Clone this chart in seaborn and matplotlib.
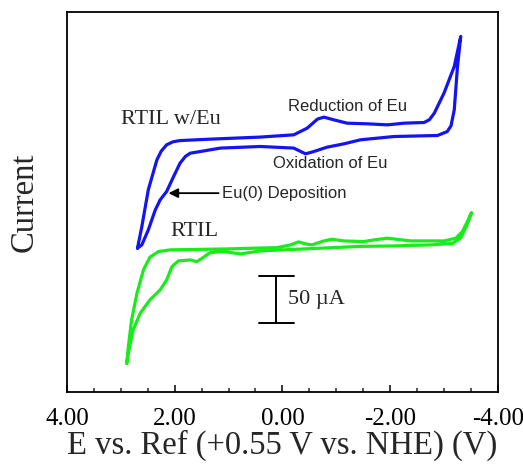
import numpy as np
import pandas as pd
import seaborn as sns
import matplotlib.pyplot as plt
from matplotlib.ticker import MultipleLocator, FormatStrFormatter

# RTIL w/Eu cyclic voltammogram (potential V, current uA)
eu_v = [2.69, 2.61, 2.49, 2.33, 2.25, 2.15, 2.03, 1.90, 1.34, 0.41, -0.21, -0.46, -0.65, -0.77,
        -0.95, -1.20, -1.58, -1.95, -2.26, -2.63, -2.73, -2.82, -3.00, -3.19, -3.31,
        -3.25, -3.19, -3.13, -3.06, -2.88, -2.07, -1.45, -1.14, -0.83, -0.58, -0.43,
        -0.21, 0.41, 1.15, 1.53, 1.71, 1.80, 1.90, 2.02, 2.15, 2.27, 2.36, 2.49, 2.61, 2.69]
eu_i = [152.9, 175.8, 214.9, 246.8, 256.0, 262.8, 266.0, 267.3, 268.8, 271.0, 273.4, 280.5, 290.1, 292.2,
        289.4, 285.8, 285.1, 284.0, 285.8, 286.5, 289.5, 296.5, 317.8, 346.1, 378.0,
        346.1, 300.0, 283.0, 276.9, 272.7, 271.6, 268.1, 263.8, 260.3, 255.6, 253.2,
        259.3, 261.0, 259.3, 255.6, 253.9, 250.5, 243.3, 229.1, 213.1, 204.2, 193.6, 172.3, 156.4, 152.9]

# neat RTIL cyclic voltammogram
rtil_v = [2.89, 2.86, 2.80, 2.70, 2.58, 2.46, 2.30, 2.08, 1.03, 0.10, -0.15, -0.30,
          -0.43, -0.55, -0.77, -0.92, -1.14, -1.51, -1.70, -1.95, -2.38, -3.00,
          -3.22, -3.34, -3.45, -3.51,
          -3.42, -3.31, -3.16, -2.75, -2.07, -1.45, -0.83, -0.21, 0.41, 0.78, 1.09,
          1.34, 1.49, 1.59, 1.71, 1.93, 2.05, 2.15, 2.27, 2.46, 2.64, 2.77, 2.86, 2.89]
rtil_i = [30.5, 48.2, 76.6, 105.0, 129.8, 143.3, 149.3, 151.1, 152.1, 153.5, 156.4, 159.6,
          157.4, 156.4, 160.6, 162.4, 160.6, 159.9, 161.7, 163.5, 160.6, 160.6,
          163.5, 170.5, 183.0, 190.7,
          176.6, 163.8, 158.0, 156.4, 155.3, 154.8, 153.2, 151.6, 150.0, 146.8, 149.3,
          148.2, 142.2, 138.6, 140.4, 139.4, 133.3, 119.1, 108.5, 97.9, 83.7, 66.0, 41.2, 30.5]

# 50 uA scale bar
bar_v = 0.11
bar_lo = 73.4
bar_len = 50

eu_df = pd.DataFrame({'E': eu_v, 'I': eu_i})
rtil_df = pd.DataFrame({'E': rtil_v, 'I': rtil_i})

sns.set_style('ticks')
plt.rcParams['font.family'] = ['Liberation Serif', 'DejaVu Serif']
plt.rcParams['axes.unicode_minus'] = False
plt.rcParams['lines.solid_joinstyle'] = 'round'
plt.rcParams['lines.solid_capstyle'] = 'round'

fig = plt.figure(figsize=(5.23, 4.68), dpi=100)
ax = fig.add_axes([0.128, 0.1624, 0.824, 0.812])

sns.lineplot(data=eu_df, x='E', y='I', sort=False, estimator=None,
             color='#1414f0', linewidth=2.3, ax=ax)
sns.lineplot(data=rtil_df, x='E', y='I', sort=False, estimator=None,
             color='#1aeb1a', linewidth=2.3, ax=ax)

ax.set_xlim(4, -4)
ax.set_ylim(0, 404)
ax.xaxis.set_major_locator(MultipleLocator(2))
ax.xaxis.set_minor_locator(MultipleLocator(0.5))
ax.xaxis.set_major_formatter(FormatStrFormatter('%.2f'))
ax.tick_params(axis='x', which='major', direction='in', length=5, width=1.1,
               labelsize=18, pad=11.5, colors='black')
ax.tick_params(axis='x', which='minor', direction='in', length=2.6, width=1.1)
ax.set_yticks([])
for s in ax.spines.values():
    s.set_linewidth(1.3)
    s.set_color('black')

ax.set_xlabel('E vs. Ref (+0.55 V vs. NHE) (V)', fontsize=23.5, labelpad=0)
ax.set_ylabel('Current', fontsize=23.5, labelpad=20)

ax.text(3.0, 290, 'RTIL w/Eu', fontsize=16, va='center', ha='left')
ax.text(2.08, 171, 'RTIL', fontsize=16, va='center', ha='left')

sans = ['Liberation Sans', 'DejaVu Sans']
ax.text(-0.11, 303, 'Reduction of Eu', fontsize=12, family=sans, va='center', ha='left')
ax.text(0.17, 242.5, 'Oxidation of Eu', fontsize=12, family=sans, va='center', ha='left')
ax.text(1.13, 211.4, 'Eu(0) Deposition', fontsize=12, family=sans, va='center', ha='left')
ax.annotate('', xy=(2.115, 211.4), xytext=(1.185, 211.4),
            arrowprops=dict(arrowstyle='-|>', color='black', lw=1.3, mutation_scale=14,
                            shrinkA=0, shrinkB=0))

ax.plot([bar_v, bar_v], [bar_lo, bar_lo + bar_len], color='black', lw=1.4)
ax.plot([bar_v + 0.33, bar_v - 0.33], [bar_lo, bar_lo], color='black', lw=1.4)
ax.plot([bar_v + 0.33, bar_v - 0.33], [bar_lo + bar_len, bar_lo + bar_len], color='black', lw=1.4)
ax.text(-0.11, bar_lo + bar_len / 2, '50 \u00b5A', fontsize=16, va='center', ha='left')

fig.savefig('out.png', dpi=100)
